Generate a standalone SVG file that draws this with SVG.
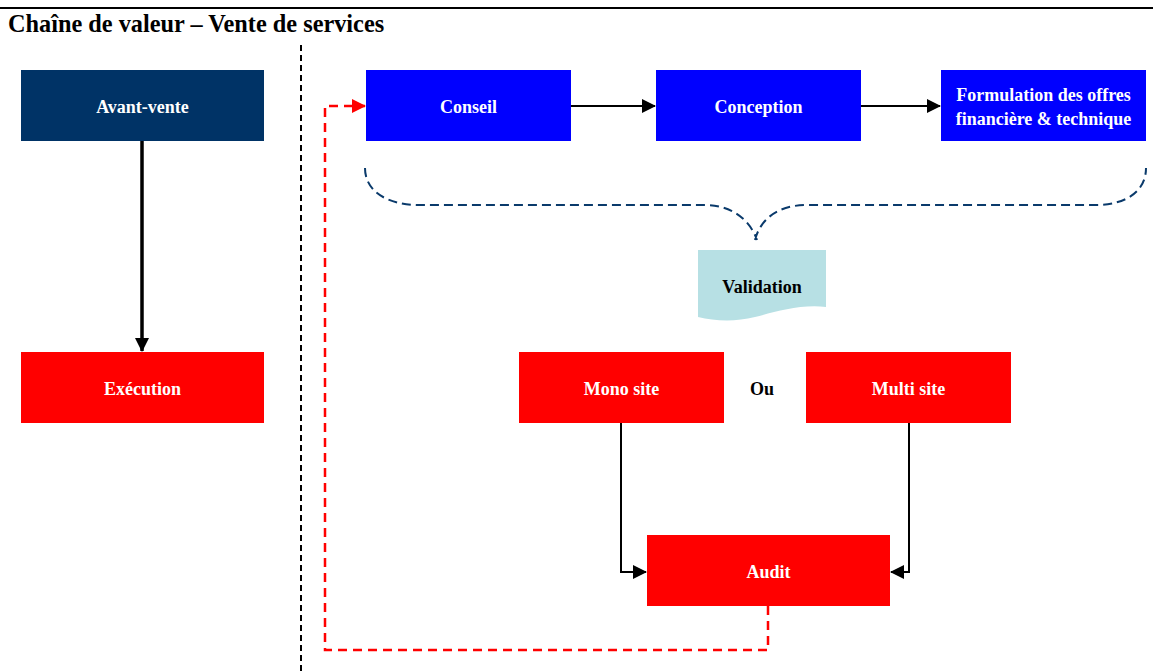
<svg xmlns="http://www.w3.org/2000/svg" width="1153" height="671" viewBox="0 0 1153 671">
  <style>
    .lbl { font-family: "Liberation Serif", "Times New Roman", serif; font-weight: bold; font-size: 18px; text-anchor: middle; fill: #ffffff; }
    .title { font-family: "Liberation Serif", "Times New Roman", serif; font-weight: bold; font-size: 24.3px; fill: #000000; }
    .dark { fill: #000000; }
    .navy { fill: #003366; }
    .blue { fill: #0000ff; }
    .red { fill: #ff0000; }
    .flow { fill: none; stroke: #000000; stroke-width: 2; }
    .thick { stroke-width: 3.5; }
  </style>
  <defs>
    <marker id="arrowBlack" markerUnits="userSpaceOnUse" markerWidth="14" markerHeight="14" refX="13" refY="7" orient="auto">
      <path d="M0,0 L14,7 L0,14 Z" fill="#000000"/>
    </marker>
    <marker id="arrowRed" markerUnits="userSpaceOnUse" markerWidth="14" markerHeight="14" refX="13" refY="7" orient="auto">
      <path d="M0,0 L14,7 L0,14 Z" fill="#ff0000"/>
    </marker>
  </defs>

  <rect width="1153" height="671" fill="#ffffff"/>

  <!-- header rule and title -->
  <line x1="0" y1="8" x2="1153" y2="8" stroke="#000000" stroke-width="2"/>
  <text class="title" x="8" y="32">Chaîne de valeur – Vente de services</text>

  <!-- separator between the two columns -->
  <line x1="301" y1="45" x2="301" y2="671" stroke="#000000" stroke-width="2" stroke-dasharray="6,4"/>

  <!-- connectors -->
  <g id="connectors">
    <path class="flow thick" d="M142,141 V351" marker-end="url(#arrowBlack)"/>
    <path class="flow" d="M571,106 H655" marker-end="url(#arrowBlack)"/>
    <path class="flow" d="M861,106 H940" marker-end="url(#arrowBlack)"/>
    <path class="flow" d="M621,423 V572 H646" marker-end="url(#arrowBlack)"/>
    <path class="flow" d="M909,423 V572 H891" marker-end="url(#arrowBlack)"/>
    <path d="M768,606 V650 H325 V106 H365" fill="none" stroke="#ff0000" stroke-width="2.5" stroke-dasharray="9,6" marker-end="url(#arrowRed)"/>
    <!-- brace grouping the three pre-sale steps -->
    <path d="M365,168 C365,190 385,205 420,205 L705,205 C732,205 750,220 757,240 M755,240 C760,220 777,205 807,205 L1095,205 C1128,205 1146,190 1146,168" fill="none" stroke="#0a3a6b" stroke-width="2" stroke-dasharray="9,5"/>
  </g>

  <g id="avant-vente">
    <rect class="navy" x="21" y="70" width="243" height="71"/>
    <text class="lbl" x="142.5" y="113">Avant-vente</text>
  </g>
  <g id="execution">
    <rect class="red" x="21" y="352" width="243" height="71"/>
    <text class="lbl" x="142.5" y="395">Exécution</text>
  </g>
  <g id="conseil">
    <rect class="blue" x="366" y="70" width="205" height="71"/>
    <text class="lbl" x="468.5" y="113">Conseil</text>
  </g>
  <g id="conception">
    <rect class="blue" x="656" y="70" width="205" height="71"/>
    <text class="lbl" x="758.5" y="113">Conception</text>
  </g>
  <g id="formulation">
    <rect class="blue" x="941" y="70" width="205" height="71"/>
    <text class="lbl" x="1043.5" y="101">Formulation des offres</text>
    <text class="lbl" x="1043.5" y="125">financière &amp; technique</text>
  </g>
  <g id="validation">
    <path d="M698,250 H826 V307 C800,304 775,312 755,317 C735,322 715,321 698,317 Z" fill="#b7e0e4"/>
    <text class="lbl dark" x="762" y="293">Validation</text>
  </g>
  <g id="mono-site">
    <rect class="red" x="519" y="352" width="205" height="71"/>
    <text class="lbl" x="621.5" y="395">Mono site</text>
  </g>
  <g id="ou">
    <text class="lbl dark" x="762" y="395">Ou</text>
  </g>
  <g id="multi-site">
    <rect class="red" x="806" y="352" width="205" height="71"/>
    <text class="lbl" x="908.5" y="395">Multi site</text>
  </g>
  <g id="audit">
    <rect class="red" x="647" y="535" width="243" height="71"/>
    <text class="lbl" x="768.5" y="578">Audit</text>
  </g>
</svg>
